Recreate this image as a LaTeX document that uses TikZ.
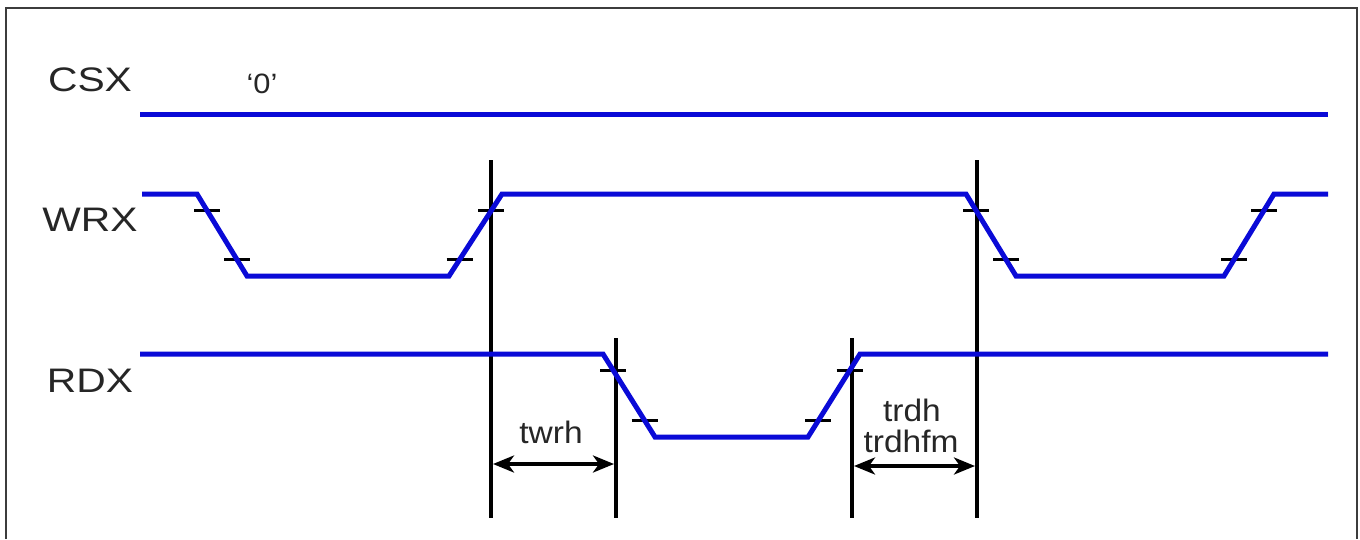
\documentclass[tikz,border=0pt]{standalone}
\usepackage{fontspec}
\setmainfont{Liberation Sans}
\usetikzlibrary{arrows.meta,calc}
\definecolor{sigblue}{RGB}{10,10,215}
\definecolor{framegray}{RGB}{60,60,60}
\begin{document}
\begin{tikzpicture}[x=1pt,y=-1pt,
  sig/.style={draw=sigblue,line width=5pt,line join=miter,line cap=butt},
  marker/.style={draw=black,line width=3.5pt},
  vline/.style={draw=black,line width=4.8pt},
  dim/.style={draw=black,line width=3.5pt,{Stealth[length=21pt,width=17pt,inset=6pt]}-{Stealth[length=21pt,width=17pt,inset=6pt]}},
  siglabel/.style={inner sep=0pt,font=\fontsize{34}{36}\selectfont,text=black!85},
  timelabel/.style={inner sep=0pt,font=\fontsize{31}{34}\selectfont,text=black!85}
]
\useasboundingbox (0,0) rectangle (1360,539);
\fill[white] (0,0) rectangle (1360,539);
\draw[framegray,line width=1.8pt] (6,539) -- (6,8) -- (1357,8) -- (1357,539);

% labels
\node[siglabel] (csx) at (90,80) {\scalebox{1.2}[1]{CSX}};
\node[siglabel] (wrx) at (90,220) {\scalebox{1.2}[1]{WRX}};
\node[siglabel] (rdx) at (90,381) {\scalebox{1.2}[1]{RDX}};
\node[inner sep=0pt,font=\fontsize{28}{30}\selectfont,text=black!85] (zero) at (262,84) {\scalebox{1.1}[1]{‘0’}};

% CSX
\draw[sig] (140,114) -- (1328,114);

% WRX
\coordinate (w0) at (142,194);
\coordinate (w1) at (197,194);
\coordinate (w2) at (247,276);
\coordinate (w3) at (449,276);
\coordinate (w4) at (502,194);
\coordinate (w5) at (966,194);
\coordinate (w6) at (1016,276);
\coordinate (w7) at (1224,276);
\coordinate (w8) at (1274,194);
\coordinate (w9) at (1328,194);

% RDX
\coordinate (r0) at (140,354);
\coordinate (r1) at (603,354);
\coordinate (r2) at (655,437);
\coordinate (r3) at (808,437);
\coordinate (r4) at (860,354);
\coordinate (r5) at (1328,354);

% vertical reference lines
\coordinate (va1) at (491,160); \coordinate (va2) at (491,518);
\coordinate (vb1) at (977,160); \coordinate (vb2) at (977,518);
\coordinate (vc1) at (616,338); \coordinate (vc2) at (616,518);
\coordinate (vd1) at (852,338); \coordinate (vd2) at (852,518);
\draw[vline] (va1) -- (va2);
\draw[vline] (vb1) -- (vb2);
\draw[vline] (vc1) -- (vc2);
\draw[vline] (vd1) -- (vd2);

% ticks on edges (20% / 80%)
\foreach \a/\b in {w1/w2,w3/w4,w5/w6,w7/w8,r1/r2,r3/r4}{
  \draw[marker] ($(\a)!0.2!(\b)+(-13,0)$) -- ($(\a)!0.2!(\b)+(13,0)$);
  \draw[marker] ($(\a)!0.8!(\b)+(-13,0)$) -- ($(\a)!0.8!(\b)+(13,0)$);
}

\draw[sig] (w0) -- (w1) -- (w2) -- (w3) -- (w4) -- (w5) -- (w6) -- (w7) -- (w8) -- (w9);
\draw[sig] (r0) -- (r1) -- (r2) -- (r3) -- (r4) -- (r5);

% dimension arrows
\coordinate (twa) at (493,464); \coordinate (twb) at (614,464);
\coordinate (tra) at (854,466); \coordinate (trb) at (975,466);
\draw[dim] (twa) -- (twb);
\draw[dim] (tra) -- (trb);
\node[timelabel] (twrh) at (551,432) {\scalebox{1.08}[1]{twrh}};
\node[timelabel] (trdh) at (912,410) {\scalebox{1.08}[1]{trdh}};
\node[timelabel] (trdhfm) at (911,441) {\scalebox{1.08}[1]{trdhfm}};
\end{tikzpicture}
\end{document}
